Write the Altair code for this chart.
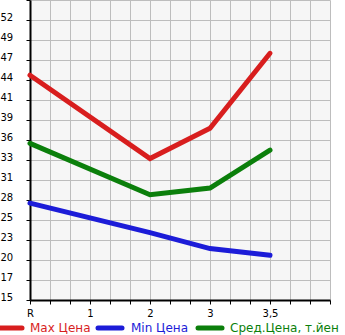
import altair as alt
import pandas as pd

x_labels = ["R", "1", "2", "3", "3,5"]
y_labels = ["15", "17", "20", "23", "25", "28", "31", "33", "36", "39", "41", "44", "47", "49", "52"]
positions = [0, 2, 3, 4]
max_price = [44.7, 33.7, 37.7, 47.6]
min_price = [27.8, 23.9, 21.8, 20.9]
avg_price = [35.7, 28.9, 29.8, 34.8]
series_names = ["Max Цена", "Min Цена", "Сред.Цена, т.йен"]
series_colors = ["#d81e1e", "#1c1cd8", "#0b7f0b"]

Y0 = 15.0
STEP = 2.643
y_ticks = [Y0 + k * STEP for k in range(16)]
x_ticks = [k / 3 for k in range(16)]

rows = []
for name, vals in zip(series_names, [max_price, min_price, avg_price]):
    for p, v in zip(positions, vals):
        rows.append({"series": name, "pos": p, "value": v})
df = pd.DataFrame(rows)

y_lab_js = "[" + ",".join("'%s'" % s for s in y_labels) + "]"
x_lab_js = "[" + ",".join("'%s'" % s for s in x_labels) + "]"

lines = alt.Chart(df).mark_line(strokeWidth=5, strokeCap="round", clip=False).encode(
    x=alt.X("pos:Q", scale=alt.Scale(domain=[0, 5], nice=False, zero=False),
            axis=alt.Axis(values=x_ticks, title=None,
                          labelExpr="abs(datum.value - round(datum.value)) < 0.01 ? (" + x_lab_js + ")[round(datum.value)] || '' : ''",
                          tickSize=4, labelPadding=4, labelFont="DejaVu Sans", labelFontSize=10,
                          labelColor="#000", tickColor="#000", domainColor="#000", domainWidth=2,
                          gridColor="#bdbdbd", gridWidth=1, labelAngle=0, labelFlush=False)),
    y=alt.Y("value:Q", scale=alt.Scale(domain=[Y0, Y0 + 15 * STEP], nice=False, zero=False),
            axis=alt.Axis(values=y_ticks, title=None,
                          labelExpr="(" + y_lab_js + ")[round((datum.value - 15) / 2.643)] || ''",
                          tickSize=4, labelPadding=26, labelAlign="left", labelBaseline="alphabetic",
                          labelFont="DejaVu Sans", labelFontSize=10, labelColor="#000",
                          tickColor="#000", domainColor="#000", domainWidth=2,
                          gridColor="#bdbdbd", gridWidth=1, labelFlush=False)),
    color=alt.Color("series:N", scale=alt.Scale(domain=series_names, range=series_colors), legend=None),
    detail="series:N",
)

# legend positions are relative to the plot origin (plot starts 30px from the left)
leg_df = pd.DataFrame({
    "series": series_names,
    "x1": [-30, 68, 168],
    "x2": [-8, 92, 192],
    "tx": [0, 101, 200],
})

leg_lines = alt.Chart(leg_df).mark_rule(strokeWidth=5, strokeCap="round", clip=False).encode(
    x=alt.X("x1:Q", scale=None),
    x2="x2:Q",
    y=alt.value(328),
    color=alt.Color("series:N", scale=alt.Scale(domain=series_names, range=series_colors), legend=None),
)

leg_text = alt.Chart(leg_df).mark_text(align="left", baseline="middle", font="DejaVu Sans",
                                       fontSize=12, clip=False).encode(
    x=alt.X("tx:Q", scale=None),
    y=alt.value(328),
    text="series:N",
    color=alt.Color("series:N", scale=alt.Scale(domain=series_names, range=series_colors), legend=None),
)

chart = alt.layer(lines, leg_lines, leg_text).properties(
    width=300, height=300,
    autosize=alt.AutoSizeParams(type="none"),
    padding={"left": 30, "top": 0, "right": 15, "bottom": 35},
    background="white",
).configure_view(fill="#f6f6f6", stroke=None)

chart.save("out.html", embed_options={"renderer": "svg", "actions": False})
